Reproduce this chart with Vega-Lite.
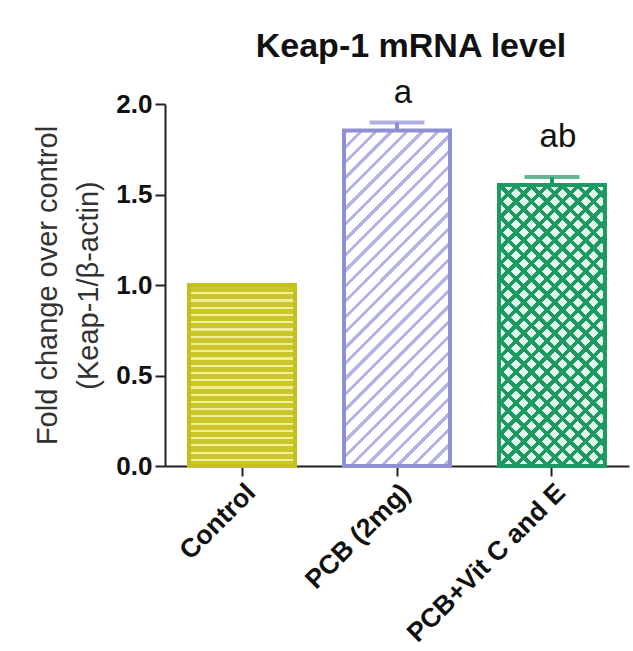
{
  "$schema": "https://vega.github.io/schema/vega-lite/v6.json",
  "autosize": {"type": "none"},
  "width": 464,
  "height": 362,
  "padding": {"left": 165, "top": 104, "right": 4, "bottom": 185},
  "background": "white",
  "config": {"view": {"stroke": null}, "font": "Liberation Sans"},
  "title": {"text": "Keap-1 mRNA level", "font": "Liberation Sans", "fontSize": 34, "fontWeight": "bold", "color": "#111", "anchor": "middle", "frame": "group", "dx": 14, "offset": 13},
  "data": {"values": [
    {"group": "Control", "mean": 1.0, "hi": 1.0, "letter": "", "letterY": 1.05},
    {"group": "PCB (2mg)", "mean": 1.853, "hi": 1.898, "letter": "a", "letterY": 2.005},
    {"group": "PCB+Vit C and E", "mean": 1.553, "hi": 1.596, "letter": "ab", "letterY": 1.762}
  ]},
  "encoding": {
    "x": {"field": "group", "type": "nominal", "sort": null,
      "scale": {"paddingInner": 0.316, "paddingOuter": 0.155},
      "axis": {"title": null, "labelAngle": -45, "labelFont": "Liberation Sans", "labelFontSize": 26.5, "labelFontWeight": "bold", "labelColor": "#111", "labelAlign": "right", "labelBaseline": "top", "labelPadding": 3, "labelLimit": 0, "tickSize": 10, "tickWidth": 2, "tickColor": "#222", "domainWidth": 2, "domainColor": "#222", "grid": false}}
  },
  "layer": [
    {"transform": [{"filter": "datum.group === 'Control'"}],
     "mark": {"type": "bar", "fill": {"gradient": "linear", "x1": 0, "y1": 0, "x2": 0, "y2": 1, "stops": [
       {"offset": 0, "color": "#f0ef9c"}, {"offset": 0.012, "color": "#f0ef9c"}, {"offset": 0.012, "color": "#cac72c"}, {"offset": 0.04, "color": "#cac72c"},
       {"offset": 0.04, "color": "#f0ef9c"}, {"offset": 0.052, "color": "#f0ef9c"}, {"offset": 0.052, "color": "#cac72c"}, {"offset": 0.08, "color": "#cac72c"},
       {"offset": 0.08, "color": "#f0ef9c"}, {"offset": 0.092, "color": "#f0ef9c"}, {"offset": 0.092, "color": "#cac72c"}, {"offset": 0.12, "color": "#cac72c"},
       {"offset": 0.12, "color": "#f0ef9c"}, {"offset": 0.132, "color": "#f0ef9c"}, {"offset": 0.132, "color": "#cac72c"}, {"offset": 0.16, "color": "#cac72c"},
       {"offset": 0.16, "color": "#f0ef9c"}, {"offset": 0.172, "color": "#f0ef9c"}, {"offset": 0.172, "color": "#cac72c"}, {"offset": 0.2, "color": "#cac72c"},
       {"offset": 0.2, "color": "#f0ef9c"}, {"offset": 0.212, "color": "#f0ef9c"}, {"offset": 0.212, "color": "#cac72c"}, {"offset": 0.24, "color": "#cac72c"},
       {"offset": 0.24, "color": "#f0ef9c"}, {"offset": 0.252, "color": "#f0ef9c"}, {"offset": 0.252, "color": "#cac72c"}, {"offset": 0.28, "color": "#cac72c"},
       {"offset": 0.28, "color": "#f0ef9c"}, {"offset": 0.292, "color": "#f0ef9c"}, {"offset": 0.292, "color": "#cac72c"}, {"offset": 0.32, "color": "#cac72c"},
       {"offset": 0.32, "color": "#f0ef9c"}, {"offset": 0.332, "color": "#f0ef9c"}, {"offset": 0.332, "color": "#cac72c"}, {"offset": 0.36, "color": "#cac72c"},
       {"offset": 0.36, "color": "#f0ef9c"}, {"offset": 0.372, "color": "#f0ef9c"}, {"offset": 0.372, "color": "#cac72c"}, {"offset": 0.4, "color": "#cac72c"},
       {"offset": 0.4, "color": "#f0ef9c"}, {"offset": 0.412, "color": "#f0ef9c"}, {"offset": 0.412, "color": "#cac72c"}, {"offset": 0.44, "color": "#cac72c"},
       {"offset": 0.44, "color": "#f0ef9c"}, {"offset": 0.452, "color": "#f0ef9c"}, {"offset": 0.452, "color": "#cac72c"}, {"offset": 0.48, "color": "#cac72c"},
       {"offset": 0.48, "color": "#f0ef9c"}, {"offset": 0.492, "color": "#f0ef9c"}, {"offset": 0.492, "color": "#cac72c"}, {"offset": 0.52, "color": "#cac72c"},
       {"offset": 0.52, "color": "#f0ef9c"}, {"offset": 0.532, "color": "#f0ef9c"}, {"offset": 0.532, "color": "#cac72c"}, {"offset": 0.56, "color": "#cac72c"},
       {"offset": 0.56, "color": "#f0ef9c"}, {"offset": 0.572, "color": "#f0ef9c"}, {"offset": 0.572, "color": "#cac72c"}, {"offset": 0.6, "color": "#cac72c"},
       {"offset": 0.6, "color": "#f0ef9c"}, {"offset": 0.612, "color": "#f0ef9c"}, {"offset": 0.612, "color": "#cac72c"}, {"offset": 0.64, "color": "#cac72c"},
       {"offset": 0.64, "color": "#f0ef9c"}, {"offset": 0.652, "color": "#f0ef9c"}, {"offset": 0.652, "color": "#cac72c"}, {"offset": 0.68, "color": "#cac72c"},
       {"offset": 0.68, "color": "#f0ef9c"}, {"offset": 0.692, "color": "#f0ef9c"}, {"offset": 0.692, "color": "#cac72c"}, {"offset": 0.72, "color": "#cac72c"},
       {"offset": 0.72, "color": "#f0ef9c"}, {"offset": 0.732, "color": "#f0ef9c"}, {"offset": 0.732, "color": "#cac72c"}, {"offset": 0.76, "color": "#cac72c"},
       {"offset": 0.76, "color": "#f0ef9c"}, {"offset": 0.772, "color": "#f0ef9c"}, {"offset": 0.772, "color": "#cac72c"}, {"offset": 0.8, "color": "#cac72c"},
       {"offset": 0.8, "color": "#f0ef9c"}, {"offset": 0.812, "color": "#f0ef9c"}, {"offset": 0.812, "color": "#cac72c"}, {"offset": 0.84, "color": "#cac72c"},
       {"offset": 0.84, "color": "#f0ef9c"}, {"offset": 0.852, "color": "#f0ef9c"}, {"offset": 0.852, "color": "#cac72c"}, {"offset": 0.88, "color": "#cac72c"},
       {"offset": 0.88, "color": "#f0ef9c"}, {"offset": 0.892, "color": "#f0ef9c"}, {"offset": 0.892, "color": "#cac72c"}, {"offset": 0.92, "color": "#cac72c"},
       {"offset": 0.92, "color": "#f0ef9c"}, {"offset": 0.932, "color": "#f0ef9c"}, {"offset": 0.932, "color": "#cac72c"}, {"offset": 0.96, "color": "#cac72c"},
       {"offset": 0.96, "color": "#f0ef9c"}, {"offset": 0.972, "color": "#f0ef9c"}, {"offset": 0.972, "color": "#cac72c"}, {"offset": 1, "color": "#cac72c"}
     ]}},
     "encoding": {"y": {"field": "mean", "type": "quantitative"}}},
    {"transform": [{"filter": "datum.group === 'PCB (2mg)'"}],
     "mark": {"type": "bar", "fill": {"gradient": "linear", "x1": 0, "y1": 0, "x2": 0.3786, "y2": 1.1966, "stops": [
       {"offset": 0, "color": "#b3b3e6"}, {"offset": 0.01, "color": "#b3b3e6"}, {"offset": 0.01, "color": "#ffffff"}, {"offset": 0.035, "color": "#ffffff"},
       {"offset": 0.035, "color": "#b3b3e6"}, {"offset": 0.045, "color": "#b3b3e6"}, {"offset": 0.045, "color": "#ffffff"}, {"offset": 0.07, "color": "#ffffff"},
       {"offset": 0.07, "color": "#b3b3e6"}, {"offset": 0.08, "color": "#b3b3e6"}, {"offset": 0.08, "color": "#ffffff"}, {"offset": 0.105, "color": "#ffffff"},
       {"offset": 0.105, "color": "#b3b3e6"}, {"offset": 0.115, "color": "#b3b3e6"}, {"offset": 0.115, "color": "#ffffff"}, {"offset": 0.14, "color": "#ffffff"},
       {"offset": 0.14, "color": "#b3b3e6"}, {"offset": 0.15, "color": "#b3b3e6"}, {"offset": 0.15, "color": "#ffffff"}, {"offset": 0.175, "color": "#ffffff"},
       {"offset": 0.175, "color": "#b3b3e6"}, {"offset": 0.185, "color": "#b3b3e6"}, {"offset": 0.185, "color": "#ffffff"}, {"offset": 0.21, "color": "#ffffff"},
       {"offset": 0.21, "color": "#b3b3e6"}, {"offset": 0.22, "color": "#b3b3e6"}, {"offset": 0.22, "color": "#ffffff"}, {"offset": 0.245, "color": "#ffffff"},
       {"offset": 0.245, "color": "#b3b3e6"}, {"offset": 0.255, "color": "#b3b3e6"}, {"offset": 0.255, "color": "#ffffff"}, {"offset": 0.28, "color": "#ffffff"},
       {"offset": 0.28, "color": "#b3b3e6"}, {"offset": 0.29, "color": "#b3b3e6"}, {"offset": 0.29, "color": "#ffffff"}, {"offset": 0.315, "color": "#ffffff"},
       {"offset": 0.315, "color": "#b3b3e6"}, {"offset": 0.325, "color": "#b3b3e6"}, {"offset": 0.325, "color": "#ffffff"}, {"offset": 0.35, "color": "#ffffff"},
       {"offset": 0.35, "color": "#b3b3e6"}, {"offset": 0.36, "color": "#b3b3e6"}, {"offset": 0.36, "color": "#ffffff"}, {"offset": 0.385, "color": "#ffffff"},
       {"offset": 0.385, "color": "#b3b3e6"}, {"offset": 0.395, "color": "#b3b3e6"}, {"offset": 0.395, "color": "#ffffff"}, {"offset": 0.42, "color": "#ffffff"},
       {"offset": 0.42, "color": "#b3b3e6"}, {"offset": 0.43, "color": "#b3b3e6"}, {"offset": 0.43, "color": "#ffffff"}, {"offset": 0.455, "color": "#ffffff"},
       {"offset": 0.455, "color": "#b3b3e6"}, {"offset": 0.465, "color": "#b3b3e6"}, {"offset": 0.465, "color": "#ffffff"}, {"offset": 0.49, "color": "#ffffff"},
       {"offset": 0.49, "color": "#b3b3e6"}, {"offset": 0.5, "color": "#b3b3e6"}, {"offset": 0.5, "color": "#ffffff"}, {"offset": 0.525, "color": "#ffffff"},
       {"offset": 0.525, "color": "#b3b3e6"}, {"offset": 0.535, "color": "#b3b3e6"}, {"offset": 0.535, "color": "#ffffff"}, {"offset": 0.56, "color": "#ffffff"},
       {"offset": 0.56, "color": "#b3b3e6"}, {"offset": 0.57, "color": "#b3b3e6"}, {"offset": 0.57, "color": "#ffffff"}, {"offset": 0.595, "color": "#ffffff"},
       {"offset": 0.595, "color": "#b3b3e6"}, {"offset": 0.605, "color": "#b3b3e6"}, {"offset": 0.605, "color": "#ffffff"}, {"offset": 0.63, "color": "#ffffff"},
       {"offset": 0.63, "color": "#b3b3e6"}, {"offset": 0.64, "color": "#b3b3e6"}, {"offset": 0.64, "color": "#ffffff"}, {"offset": 0.665, "color": "#ffffff"},
       {"offset": 0.665, "color": "#b3b3e6"}, {"offset": 0.675, "color": "#b3b3e6"}, {"offset": 0.675, "color": "#ffffff"}, {"offset": 0.7, "color": "#ffffff"},
       {"offset": 0.7, "color": "#b3b3e6"}, {"offset": 0.71, "color": "#b3b3e6"}, {"offset": 0.71, "color": "#ffffff"}, {"offset": 0.735, "color": "#ffffff"},
       {"offset": 0.735, "color": "#b3b3e6"}, {"offset": 0.745, "color": "#b3b3e6"}, {"offset": 0.745, "color": "#ffffff"}, {"offset": 0.77, "color": "#ffffff"},
       {"offset": 0.77, "color": "#b3b3e6"}, {"offset": 0.78, "color": "#b3b3e6"}, {"offset": 0.78, "color": "#ffffff"}, {"offset": 0.805, "color": "#ffffff"},
       {"offset": 0.805, "color": "#b3b3e6"}, {"offset": 0.815, "color": "#b3b3e6"}, {"offset": 0.815, "color": "#ffffff"}, {"offset": 0.84, "color": "#ffffff"},
       {"offset": 0.84, "color": "#b3b3e6"}, {"offset": 0.85, "color": "#b3b3e6"}, {"offset": 0.85, "color": "#ffffff"}, {"offset": 0.875, "color": "#ffffff"},
       {"offset": 0.875, "color": "#b3b3e6"}, {"offset": 0.885, "color": "#b3b3e6"}, {"offset": 0.885, "color": "#ffffff"}, {"offset": 0.91, "color": "#ffffff"},
       {"offset": 0.91, "color": "#b3b3e6"}, {"offset": 0.92, "color": "#b3b3e6"}, {"offset": 0.92, "color": "#ffffff"}, {"offset": 0.945, "color": "#ffffff"},
       {"offset": 0.945, "color": "#b3b3e6"}, {"offset": 0.955, "color": "#b3b3e6"}, {"offset": 0.955, "color": "#ffffff"}, {"offset": 0.98, "color": "#ffffff"},
       {"offset": 0.98, "color": "#b3b3e6"}, {"offset": 0.99, "color": "#b3b3e6"}, {"offset": 0.99, "color": "#ffffff"}, {"offset": 1, "color": "#ffffff"}
     ]}},
     "encoding": {"y": {"field": "mean", "type": "quantitative"}}},
    {"transform": [{"filter": "datum.group === 'PCB+Vit C and E'"}],
     "mark": {"type": "bar", "fill": "#e4f8f2"},
     "encoding": {"y": {"field": "mean", "type": "quantitative"}}},
    {"transform": [{"filter": "datum.group === 'PCB+Vit C and E'"}],
     "mark": {"type": "bar", "fill": {"gradient": "linear", "x1": 0, "y1": 0, "x2": 0.4546, "y2": 1.2057, "stops": [
       {"offset": 0, "color": "#1c9a62"}, {"offset": 0.014, "color": "#1c9a62"}, {"offset": 0.014, "color": "rgba(28,154,98,0)"}, {"offset": 0.04, "color": "rgba(28,154,98,0)"},
       {"offset": 0.04, "color": "#1c9a62"}, {"offset": 0.054, "color": "#1c9a62"}, {"offset": 0.054, "color": "rgba(28,154,98,0)"}, {"offset": 0.08, "color": "rgba(28,154,98,0)"},
       {"offset": 0.08, "color": "#1c9a62"}, {"offset": 0.094, "color": "#1c9a62"}, {"offset": 0.094, "color": "rgba(28,154,98,0)"}, {"offset": 0.12, "color": "rgba(28,154,98,0)"},
       {"offset": 0.12, "color": "#1c9a62"}, {"offset": 0.134, "color": "#1c9a62"}, {"offset": 0.134, "color": "rgba(28,154,98,0)"}, {"offset": 0.16, "color": "rgba(28,154,98,0)"},
       {"offset": 0.16, "color": "#1c9a62"}, {"offset": 0.174, "color": "#1c9a62"}, {"offset": 0.174, "color": "rgba(28,154,98,0)"}, {"offset": 0.2, "color": "rgba(28,154,98,0)"},
       {"offset": 0.2, "color": "#1c9a62"}, {"offset": 0.214, "color": "#1c9a62"}, {"offset": 0.214, "color": "rgba(28,154,98,0)"}, {"offset": 0.24, "color": "rgba(28,154,98,0)"},
       {"offset": 0.24, "color": "#1c9a62"}, {"offset": 0.254, "color": "#1c9a62"}, {"offset": 0.254, "color": "rgba(28,154,98,0)"}, {"offset": 0.28, "color": "rgba(28,154,98,0)"},
       {"offset": 0.28, "color": "#1c9a62"}, {"offset": 0.294, "color": "#1c9a62"}, {"offset": 0.294, "color": "rgba(28,154,98,0)"}, {"offset": 0.32, "color": "rgba(28,154,98,0)"},
       {"offset": 0.32, "color": "#1c9a62"}, {"offset": 0.334, "color": "#1c9a62"}, {"offset": 0.334, "color": "rgba(28,154,98,0)"}, {"offset": 0.36, "color": "rgba(28,154,98,0)"},
       {"offset": 0.36, "color": "#1c9a62"}, {"offset": 0.374, "color": "#1c9a62"}, {"offset": 0.374, "color": "rgba(28,154,98,0)"}, {"offset": 0.4, "color": "rgba(28,154,98,0)"},
       {"offset": 0.4, "color": "#1c9a62"}, {"offset": 0.414, "color": "#1c9a62"}, {"offset": 0.414, "color": "rgba(28,154,98,0)"}, {"offset": 0.44, "color": "rgba(28,154,98,0)"},
       {"offset": 0.44, "color": "#1c9a62"}, {"offset": 0.454, "color": "#1c9a62"}, {"offset": 0.454, "color": "rgba(28,154,98,0)"}, {"offset": 0.48, "color": "rgba(28,154,98,0)"},
       {"offset": 0.48, "color": "#1c9a62"}, {"offset": 0.494, "color": "#1c9a62"}, {"offset": 0.494, "color": "rgba(28,154,98,0)"}, {"offset": 0.52, "color": "rgba(28,154,98,0)"},
       {"offset": 0.52, "color": "#1c9a62"}, {"offset": 0.534, "color": "#1c9a62"}, {"offset": 0.534, "color": "rgba(28,154,98,0)"}, {"offset": 0.56, "color": "rgba(28,154,98,0)"},
       {"offset": 0.56, "color": "#1c9a62"}, {"offset": 0.574, "color": "#1c9a62"}, {"offset": 0.574, "color": "rgba(28,154,98,0)"}, {"offset": 0.6, "color": "rgba(28,154,98,0)"},
       {"offset": 0.6, "color": "#1c9a62"}, {"offset": 0.614, "color": "#1c9a62"}, {"offset": 0.614, "color": "rgba(28,154,98,0)"}, {"offset": 0.64, "color": "rgba(28,154,98,0)"},
       {"offset": 0.64, "color": "#1c9a62"}, {"offset": 0.654, "color": "#1c9a62"}, {"offset": 0.654, "color": "rgba(28,154,98,0)"}, {"offset": 0.68, "color": "rgba(28,154,98,0)"},
       {"offset": 0.68, "color": "#1c9a62"}, {"offset": 0.694, "color": "#1c9a62"}, {"offset": 0.694, "color": "rgba(28,154,98,0)"}, {"offset": 0.72, "color": "rgba(28,154,98,0)"},
       {"offset": 0.72, "color": "#1c9a62"}, {"offset": 0.734, "color": "#1c9a62"}, {"offset": 0.734, "color": "rgba(28,154,98,0)"}, {"offset": 0.76, "color": "rgba(28,154,98,0)"},
       {"offset": 0.76, "color": "#1c9a62"}, {"offset": 0.774, "color": "#1c9a62"}, {"offset": 0.774, "color": "rgba(28,154,98,0)"}, {"offset": 0.8, "color": "rgba(28,154,98,0)"},
       {"offset": 0.8, "color": "#1c9a62"}, {"offset": 0.814, "color": "#1c9a62"}, {"offset": 0.814, "color": "rgba(28,154,98,0)"}, {"offset": 0.84, "color": "rgba(28,154,98,0)"},
       {"offset": 0.84, "color": "#1c9a62"}, {"offset": 0.854, "color": "#1c9a62"}, {"offset": 0.854, "color": "rgba(28,154,98,0)"}, {"offset": 0.88, "color": "rgba(28,154,98,0)"},
       {"offset": 0.88, "color": "#1c9a62"}, {"offset": 0.894, "color": "#1c9a62"}, {"offset": 0.894, "color": "rgba(28,154,98,0)"}, {"offset": 0.92, "color": "rgba(28,154,98,0)"},
       {"offset": 0.92, "color": "#1c9a62"}, {"offset": 0.934, "color": "#1c9a62"}, {"offset": 0.934, "color": "rgba(28,154,98,0)"}, {"offset": 0.96, "color": "rgba(28,154,98,0)"},
       {"offset": 0.96, "color": "#1c9a62"}, {"offset": 0.974, "color": "#1c9a62"}, {"offset": 0.974, "color": "rgba(28,154,98,0)"}, {"offset": 1, "color": "rgba(28,154,98,0)"}
     ]}},
     "encoding": {"y": {"field": "mean", "type": "quantitative"}}},
    {"transform": [{"filter": "datum.group === 'PCB+Vit C and E'"}],
     "mark": {"type": "bar", "fill": {"gradient": "linear", "x1": 0, "y1": 1, "x2": 0.4546, "y2": -0.2057, "stops": [
       {"offset": 0, "color": "#1c9a62"}, {"offset": 0.014, "color": "#1c9a62"}, {"offset": 0.014, "color": "rgba(28,154,98,0)"}, {"offset": 0.04, "color": "rgba(28,154,98,0)"},
       {"offset": 0.04, "color": "#1c9a62"}, {"offset": 0.054, "color": "#1c9a62"}, {"offset": 0.054, "color": "rgba(28,154,98,0)"}, {"offset": 0.08, "color": "rgba(28,154,98,0)"},
       {"offset": 0.08, "color": "#1c9a62"}, {"offset": 0.094, "color": "#1c9a62"}, {"offset": 0.094, "color": "rgba(28,154,98,0)"}, {"offset": 0.12, "color": "rgba(28,154,98,0)"},
       {"offset": 0.12, "color": "#1c9a62"}, {"offset": 0.134, "color": "#1c9a62"}, {"offset": 0.134, "color": "rgba(28,154,98,0)"}, {"offset": 0.16, "color": "rgba(28,154,98,0)"},
       {"offset": 0.16, "color": "#1c9a62"}, {"offset": 0.174, "color": "#1c9a62"}, {"offset": 0.174, "color": "rgba(28,154,98,0)"}, {"offset": 0.2, "color": "rgba(28,154,98,0)"},
       {"offset": 0.2, "color": "#1c9a62"}, {"offset": 0.214, "color": "#1c9a62"}, {"offset": 0.214, "color": "rgba(28,154,98,0)"}, {"offset": 0.24, "color": "rgba(28,154,98,0)"},
       {"offset": 0.24, "color": "#1c9a62"}, {"offset": 0.254, "color": "#1c9a62"}, {"offset": 0.254, "color": "rgba(28,154,98,0)"}, {"offset": 0.28, "color": "rgba(28,154,98,0)"},
       {"offset": 0.28, "color": "#1c9a62"}, {"offset": 0.294, "color": "#1c9a62"}, {"offset": 0.294, "color": "rgba(28,154,98,0)"}, {"offset": 0.32, "color": "rgba(28,154,98,0)"},
       {"offset": 0.32, "color": "#1c9a62"}, {"offset": 0.334, "color": "#1c9a62"}, {"offset": 0.334, "color": "rgba(28,154,98,0)"}, {"offset": 0.36, "color": "rgba(28,154,98,0)"},
       {"offset": 0.36, "color": "#1c9a62"}, {"offset": 0.374, "color": "#1c9a62"}, {"offset": 0.374, "color": "rgba(28,154,98,0)"}, {"offset": 0.4, "color": "rgba(28,154,98,0)"},
       {"offset": 0.4, "color": "#1c9a62"}, {"offset": 0.414, "color": "#1c9a62"}, {"offset": 0.414, "color": "rgba(28,154,98,0)"}, {"offset": 0.44, "color": "rgba(28,154,98,0)"},
       {"offset": 0.44, "color": "#1c9a62"}, {"offset": 0.454, "color": "#1c9a62"}, {"offset": 0.454, "color": "rgba(28,154,98,0)"}, {"offset": 0.48, "color": "rgba(28,154,98,0)"},
       {"offset": 0.48, "color": "#1c9a62"}, {"offset": 0.494, "color": "#1c9a62"}, {"offset": 0.494, "color": "rgba(28,154,98,0)"}, {"offset": 0.52, "color": "rgba(28,154,98,0)"},
       {"offset": 0.52, "color": "#1c9a62"}, {"offset": 0.534, "color": "#1c9a62"}, {"offset": 0.534, "color": "rgba(28,154,98,0)"}, {"offset": 0.56, "color": "rgba(28,154,98,0)"},
       {"offset": 0.56, "color": "#1c9a62"}, {"offset": 0.574, "color": "#1c9a62"}, {"offset": 0.574, "color": "rgba(28,154,98,0)"}, {"offset": 0.6, "color": "rgba(28,154,98,0)"},
       {"offset": 0.6, "color": "#1c9a62"}, {"offset": 0.614, "color": "#1c9a62"}, {"offset": 0.614, "color": "rgba(28,154,98,0)"}, {"offset": 0.64, "color": "rgba(28,154,98,0)"},
       {"offset": 0.64, "color": "#1c9a62"}, {"offset": 0.654, "color": "#1c9a62"}, {"offset": 0.654, "color": "rgba(28,154,98,0)"}, {"offset": 0.68, "color": "rgba(28,154,98,0)"},
       {"offset": 0.68, "color": "#1c9a62"}, {"offset": 0.694, "color": "#1c9a62"}, {"offset": 0.694, "color": "rgba(28,154,98,0)"}, {"offset": 0.72, "color": "rgba(28,154,98,0)"},
       {"offset": 0.72, "color": "#1c9a62"}, {"offset": 0.734, "color": "#1c9a62"}, {"offset": 0.734, "color": "rgba(28,154,98,0)"}, {"offset": 0.76, "color": "rgba(28,154,98,0)"},
       {"offset": 0.76, "color": "#1c9a62"}, {"offset": 0.774, "color": "#1c9a62"}, {"offset": 0.774, "color": "rgba(28,154,98,0)"}, {"offset": 0.8, "color": "rgba(28,154,98,0)"},
       {"offset": 0.8, "color": "#1c9a62"}, {"offset": 0.814, "color": "#1c9a62"}, {"offset": 0.814, "color": "rgba(28,154,98,0)"}, {"offset": 0.84, "color": "rgba(28,154,98,0)"},
       {"offset": 0.84, "color": "#1c9a62"}, {"offset": 0.854, "color": "#1c9a62"}, {"offset": 0.854, "color": "rgba(28,154,98,0)"}, {"offset": 0.88, "color": "rgba(28,154,98,0)"},
       {"offset": 0.88, "color": "#1c9a62"}, {"offset": 0.894, "color": "#1c9a62"}, {"offset": 0.894, "color": "rgba(28,154,98,0)"}, {"offset": 0.92, "color": "rgba(28,154,98,0)"},
       {"offset": 0.92, "color": "#1c9a62"}, {"offset": 0.934, "color": "#1c9a62"}, {"offset": 0.934, "color": "rgba(28,154,98,0)"}, {"offset": 0.96, "color": "rgba(28,154,98,0)"},
       {"offset": 0.96, "color": "#1c9a62"}, {"offset": 0.974, "color": "#1c9a62"}, {"offset": 0.974, "color": "rgba(28,154,98,0)"}, {"offset": 1, "color": "rgba(28,154,98,0)"}
     ]}},
     "encoding": {"y": {"field": "mean", "type": "quantitative"}}},
    {"mark": {"type": "bar", "strokeWidth": 4, "fill": "transparent"},
     "encoding": {
       "y": {"field": "mean", "type": "quantitative", "scale": {"domain": [0, 2], "nice": false},
         "axis": {"values": [0, 0.5, 1, 1.5, 2], "format": ".1f", "title": ["Fold change over control", "(Keap-1/β-actin)"], "titleFont": "Liberation Sans", "titleFontSize": 29, "titleFontWeight": "normal", "titleColor": "#333", "titleLineHeight": 41, "titlePadding": 12, "labelFont": "Liberation Sans", "labelFontSize": 26, "labelFontWeight": "bold", "labelColor": "#111", "labelPadding": 3, "tickSize": 10, "tickWidth": 2, "tickColor": "#222", "domainWidth": 2, "domainColor": "#222", "grid": false}},
       "stroke": {"field": "group", "type": "nominal", "legend": null, "scale": {"domain": ["Control", "PCB (2mg)", "PCB+Vit C and E"], "range": ["#c4c11c", "#8f8fd4", "#1c9a62"]}}
     }},
    {"transform": [{"filter": "datum.hi > datum.mean"}],
     "mark": {"type": "rule", "strokeWidth": 4},
     "encoding": {
       "y": {"field": "mean", "type": "quantitative"},
       "y2": {"field": "hi"},
       "color": {"field": "group", "type": "nominal", "legend": null, "scale": {"domain": ["Control", "PCB (2mg)", "PCB+Vit C and E"], "range": ["#c4c11c", "#8f8fd4", "#1c9a62"]}}
     }},
    {"transform": [{"filter": "datum.hi > datum.mean"}],
     "mark": {"type": "tick", "orient": "horizontal", "size": 55, "thickness": 4},
     "encoding": {
       "y": {"field": "hi", "type": "quantitative"},
       "color": {"field": "group", "type": "nominal", "legend": null, "scale": {"domain": ["Control", "PCB (2mg)", "PCB+Vit C and E"], "range": ["#c4c11c", "#8f8fd4", "#1c9a62"]}}
     }},
    {"mark": {"type": "text", "font": "Liberation Sans", "fontSize": 33, "baseline": "alphabetic", "color": "#111", "dx": 6},
     "encoding": {
       "y": {"field": "letterY", "type": "quantitative"},
       "text": {"field": "letter"}
     }}
  ]
}
